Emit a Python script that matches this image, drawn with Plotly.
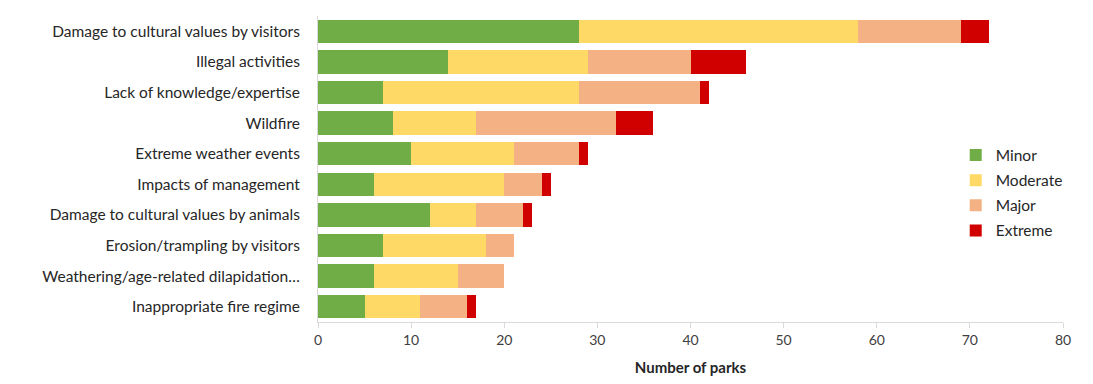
import plotly.graph_objects as go

categories = [
    "Damage to cultural values by visitors",
    "Illegal activities",
    "Lack of knowledge/expertise",
    "Wildfire",
    "Extreme weather events",
    "Impacts of management",
    "Damage to cultural values by animals",
    "Erosion/trampling by visitors",
    "Weathering/age-related dilapidation…",
    "Inappropriate fire regime",
]
minor = [28, 14, 7, 8, 10, 6, 12, 7, 6, 5]
moderate = [30, 15, 21, 9, 11, 14, 5, 11, 9, 6]
major = [11, 11, 13, 15, 7, 4, 5, 3, 5, 5]
extreme = [3, 6, 1, 4, 1, 1, 1, 0, 0, 1]

series = [
    ("Minor", minor, "#70AD47"),
    ("Moderate", moderate, "#FFD966"),
    ("Major", major, "#F4B183"),
    ("Extreme", extreme, "#D00000"),
]

fig = go.Figure()
for name, vals, col in series:
    fig.add_trace(go.Bar(
        y=categories, x=vals, name=name, orientation="h",
        marker=dict(color=col, line=dict(width=0)),
        legendgroup=name,
    ))

fig.update_layout(
    width=1093, height=384,
    barmode="stack", bargap=0.24,
    plot_bgcolor="white", paper_bgcolor="white",
    margin=dict(l=318, r=30, t=16, b=62),
    font=dict(family="Lato", size=14, color="#262626"),
    legend=dict(
        x=0.856, y=0.6, xanchor="left", yanchor="top",
        traceorder="grouped", tracegroupgap=2,
        font=dict(size=15.5, color="#262626"),
        itemwidth=30,
    ),
    xaxis=dict(
        range=[0, 80], dtick=10, showgrid=False,
        showline=True, linecolor="#D9D9D9", linewidth=1,
        ticks="outside", tickcolor="#D9D9D9", ticklen=5,
        tickfont=dict(size=14, color="#404040"),
        title=dict(text="<b>Number of parks</b>", font=dict(size=15, color="#262626"), standoff=15),
        zeroline=False,
    ),
    yaxis=dict(
        autorange="reversed", showgrid=False,
        showline=True, linecolor="#D9D9D9", linewidth=1,
        ticks="", ticklabelstandoff=14,
        tickfont=dict(size=15.5, color="#262626"),
    ),
)

fig.write_html("out.html", config={"displayModeBar": False},
               post_script="document.body.style.margin='0';")
